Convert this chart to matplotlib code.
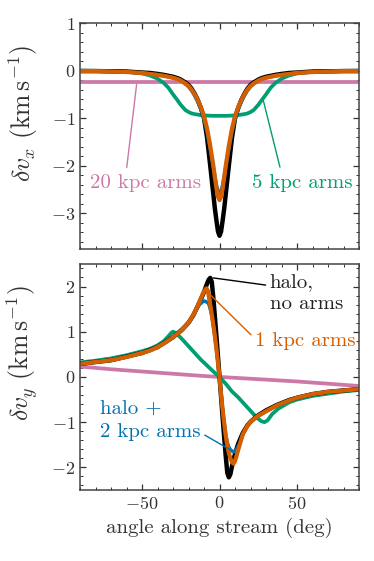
import matplotlib
matplotlib.use("Agg")
import matplotlib.pyplot as plt
from matplotlib.ticker import MultipleLocator

plt.rcParams['font.family'] = 'cmr10'
plt.rcParams['mathtext.fontset'] = 'cm'
plt.rcParams['axes.formatter.use_mathtext'] = True

# colours
c_halo = 'black'
c_1kpc = '#D55E00'
c_2kpc = '#0072B2'
c_5kpc = '#009E73'
c_20kpc = '#CC79A7'

# ---- top panel: delta v_x ----
ang_x = [-90, -80, -70, -60, -50, -45, -40, -36, -33, -30, -27, -25, -22, -20, -18, -16,
         -14, -12, -10, -8, -6, -4, -3, -2, -1, 0, 1, 2, 3, 4, 6, 8, 10, 12, 14, 16,
         18, 20, 22, 25, 27, 30, 33, 36, 40, 45, 50, 60, 70, 80, 90]
vx_halo = [-0.01, -0.01, -0.015, -0.02, -0.04, -0.05, -0.07, -0.09, -0.11, -0.13, -0.16, -0.19,
           -0.25, -0.30, -0.38, -0.49, -0.62, -0.79, -1.00, -1.42, -2.00, -2.60, -2.90, -3.15,
           -3.38, -3.47, -3.38, -3.15, -2.90, -2.60, -2.00, -1.42, -1.00, -0.79, -0.62, -0.49,
           -0.38, -0.30, -0.25, -0.19, -0.16, -0.13, -0.11, -0.09, -0.07, -0.05, -0.04, -0.02,
           -0.015, -0.01, -0.01]
vx_1kpc = [-0.01, -0.01, -0.02, -0.03, -0.05, -0.07, -0.09, -0.11, -0.13, -0.15, -0.18, -0.21,
           -0.27, -0.32, -0.40, -0.50, -0.62, -0.77, -0.96, -1.22, -1.58, -2.00, -2.25, -2.47,
           -2.65, -2.72, -2.65, -2.47, -2.25, -2.00, -1.58, -1.22, -0.96, -0.77, -0.62, -0.50,
           -0.40, -0.32, -0.27, -0.21, -0.18, -0.15, -0.13, -0.11, -0.09, -0.07, -0.05, -0.03,
           -0.02, -0.01, -0.01]
vx_2kpc = [-0.01, -0.01, -0.02, -0.03, -0.05, -0.07, -0.09, -0.11, -0.13, -0.15, -0.18, -0.21,
           -0.28, -0.34, -0.42, -0.53, -0.66, -0.82, -1.02, -1.30, -1.65, -2.02, -2.22, -2.40,
           -2.53, -2.58, -2.53, -2.40, -2.22, -2.02, -1.65, -1.30, -1.02, -0.82, -0.66, -0.53,
           -0.42, -0.34, -0.28, -0.21, -0.18, -0.15, -0.13, -0.11, -0.09, -0.07, -0.05, -0.03,
           -0.02, -0.01, -0.01]
vx_5kpc = [0.0, -0.005, -0.01, -0.02, -0.06, -0.10, -0.17, -0.26, -0.36, -0.50, -0.63, -0.72,
           -0.83, -0.87, -0.90, -0.915, -0.925, -0.935, -0.94, -0.945, -0.948, -0.95, -0.95, -0.95,
           -0.95, -0.95, -0.95, -0.95, -0.95, -0.95, -0.948, -0.945, -0.94, -0.935, -0.925, -0.915,
           -0.90, -0.87, -0.83, -0.72, -0.63, -0.50, -0.36, -0.26, -0.17, -0.10, -0.06, -0.02,
           -0.01, -0.005, 0.0]
ang_x20 = [-90, -45, 0, 45, 90]
vx_20kpc = [-0.25, -0.25, -0.25, -0.25, -0.25]

# ---- bottom panel: delta v_y ----
ang_y_halo = [-90, -70, -50, -40, -30, -24, -20, -17, -15, -12, -10, -8, -7, -6, -5, -4, -3, -2,
              -1, 0, 1, 2, 3, 4, 5, 6, 7, 8, 10, 12, 15, 18, 20, 24, 30, 37, 45, 50, 60, 70, 80, 90]
vy_halo = [0.29, 0.37, 0.53, 0.66, 0.88, 1.05, 1.20, 1.36, 1.50, 1.72, 1.88, 2.07, 2.15, 2.19,
           2.10, 1.75, 1.33, 0.90, 0.45, 0.0, -0.45, -0.90, -1.33, -1.75, -2.12, -2.22, -2.15,
           -1.98, -1.70, -1.48, -1.24, -1.07, -0.99, -0.87, -0.74, -0.62, -0.51, -0.46, -0.38,
           -0.33, -0.30, -0.27]
ang_y_1kpc = [-90, -80, -70, -60, -50, -45, -40, -35, -30, -25, -20, -17, -15, -13, -11, -10, -9,
              -8.4, -7.5, -6.5, -5, -4, -3, -2, -1, 0, 1, 2, 3, 4, 5, 6, 7, 8, 9, 10, 11, 13, 15,
              18, 20, 24, 30, 37, 45, 50, 60, 70, 80, 90]
vy_1kpc = [0.29, 0.33, 0.37, 0.44, 0.53, 0.58, 0.66, 0.76, 0.88, 1.01, 1.20, 1.37, 1.50, 1.66,
           1.82, 1.89, 1.94, 1.96, 1.90, 1.70, 1.38, 1.15, 0.90, 0.62, 0.31, 0.0, -0.40, -0.72,
           -1.02, -1.30, -1.52, -1.68, -1.80, -1.88, -1.92, -1.86, -1.74, -1.50, -1.27, -1.08,
           -0.99, -0.88, -0.76, -0.63, -0.52, -0.46, -0.38, -0.33, -0.30, -0.27]
ang_y_2kpc = [-90, -70, -50, -40, -30, -20, -15, -13, -11, -10, -9, -8, -7, -6, -5, -4, -3, -2,
              -1, 0, 1, 2, 3, 4, 5, 6, 7, 8, 9, 10, 11, 13, 15, 18, 20, 24, 30, 37, 45, 60, 70, 90]
vy_2kpc = [0.29, 0.37, 0.53, 0.66, 0.88, 1.20, 1.48, 1.60, 1.66, 1.68, 1.67, 1.65, 1.62, 1.50,
           1.36, 1.13, 0.88, 0.60, 0.30, 0.0, -0.40, -0.72, -1.02, -1.28, -1.45, -1.55, -1.61,
           -1.64, -1.65, -1.65, -1.60, -1.47, -1.27, -1.08, -0.99, -0.88, -0.76, -0.63, -0.52,
           -0.38, -0.33, -0.27]
ang_y_5kpc = [-90, -80, -70, -60, -50, -45, -40, -36, -33, -31, -30, -28, -26, -24, -20, -16, -12,
              -8, -4, 0, 4, 8, 12, 16, 20, 24, 27, 29, 31, 34, 38, 45, 50, 60, 70, 80, 90]
vy_5kpc = [0.32, 0.36, 0.41, 0.48, 0.57, 0.62, 0.70, 0.79, 0.90, 0.98, 1.00, 0.97, 0.90, 0.83,
           0.68, 0.53, 0.38, 0.25, 0.12, 0.0, -0.15, -0.32, -0.45, -0.60, -0.75, -0.90, -0.98,
           -1.00, -0.96, -0.82, -0.70, -0.56, -0.50, -0.42, -0.37, -0.32, -0.29]
ang_y20 = [-90, -70, -50, -30, -10, 0, 10, 30, 50, 70, 90]
vy_20kpc = [0.23, 0.17, 0.12, 0.07, 0.02, 0.0, -0.02, -0.06, -0.10, -0.15, -0.20]

fig = plt.figure(figsize=(3.74, 5.61), dpi=100)
ax1 = fig.add_axes([0.214, 0.556, 0.746, 0.403])
ax2 = fig.add_axes([0.214, 0.1266, 0.746, 0.403])

ax1.plot(ang_x20, vx_20kpc, color=c_20kpc, lw=2.7)
ax1.plot(ang_x, vx_5kpc, color=c_5kpc, lw=2.7)
ax1.plot(ang_x, vx_halo, color=c_halo, lw=3.2)
ax1.plot(ang_x, vx_2kpc, color=c_2kpc, lw=2.5)
ax1.plot(ang_x, vx_1kpc, color=c_1kpc, lw=3.0)

ax2.plot(ang_y20, vy_20kpc, color=c_20kpc, lw=2.7)
ax2.plot(ang_y_5kpc, vy_5kpc, color=c_5kpc, lw=2.7)
ax2.plot(ang_y_halo, vy_halo, color=c_halo, lw=3.2)
ax2.plot(ang_y_2kpc, vy_2kpc, color=c_2kpc, lw=2.5)
ax2.plot(ang_y_1kpc, vy_1kpc, color=c_1kpc, lw=3.0)

fs = 15
txt = '#222222'
ax1.annotate('20 kpc arms', xy=(-53.5, -0.29), xytext=(-47.5, -2.37), color=c_20kpc,
             fontsize=fs, ha='center', va='center',
             arrowprops=dict(arrowstyle='-', color=c_20kpc, lw=1, relpos=(0.32, 1.0),
                             shrinkA=3, shrinkB=0))
ax1.annotate('5 kpc arms', xy=(28.1, -0.61), xytext=(53.7, -2.36), color=c_5kpc,
             fontsize=fs, ha='center', va='center',
             arrowprops=dict(arrowstyle='-', color=c_5kpc, lw=1, relpos=(0.29, 1.0),
                             shrinkA=3, shrinkB=0))
ax2.annotate('halo,\nno arms', xy=(-4.1, 2.19), xytext=(32.4, 1.84), color=txt,
             fontsize=fs, ha='left', va='center', linespacing=1.2,
             arrowprops=dict(arrowstyle='-', color=c_halo, lw=1, relpos=(0.0, 0.71),
                             shrinkA=1, shrinkB=0))
ax2.annotate('1 kpc arms', xy=(-8.4, 1.9), xytext=(22.7, 0.79), color=c_1kpc,
             fontsize=fs, ha='left', va='center',
             arrowprops=dict(arrowstyle='-', color=c_1kpc, lw=1, relpos=(0.0, 0.65),
                             shrinkA=1, shrinkB=0))
ax2.annotate('halo +\n2 kpc arms', xy=(9.9, -1.67), xytext=(-77, -0.97), color=c_2kpc,
             fontsize=fs, ha='left', va='center', linespacing=1.3,
             arrowprops=dict(arrowstyle='-', color=c_2kpc, lw=1, relpos=(1.0, 0.2),
                             shrinkA=1, shrinkB=0))

for ax in (ax1, ax2):
    ax.set_xlim(-90, 90)
    ax.xaxis.set_major_locator(MultipleLocator(50))
    ax.xaxis.set_minor_locator(MultipleLocator(10))
    ax.yaxis.set_major_locator(MultipleLocator(1))
    ax.yaxis.set_minor_locator(MultipleLocator(0.2))
    ax.tick_params(which='both', direction='in', top=True, right=True, colors='#333333',
                   labelcolor='#333333', labelsize=13)
    ax.tick_params(which='major', length=4.5, width=0.9)
    ax.tick_params(which='minor', length=2.5, width=0.7)
    for s in ax.spines.values():
        s.set_color('#444444')
        s.set_linewidth(1.1)

ax1.set_ylim(-3.75, 1)
ax2.set_ylim(-2.5, 2.5)
ax1.tick_params(labelbottom=False)

ax1.set_ylabel(r'$\delta v_x\ (\mathrm{km\,s^{-1}})$', fontsize=18.5, color='#333333')
ax2.set_ylabel(r'$\delta v_y\ (\mathrm{km\,s^{-1}})$', fontsize=18.5, color='#333333')
ax1.yaxis.set_label_coords(-0.143, 0.60)
ax2.yaxis.set_label_coords(-0.143, 0.604)
ax2.set_xlabel('angle along stream (deg)', fontsize=fs, color='#333333')

fig.savefig('out.png', dpi=100)
